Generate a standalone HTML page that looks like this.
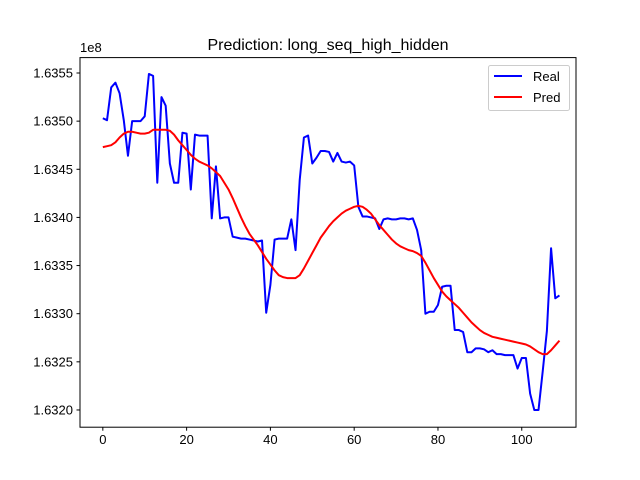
<!DOCTYPE html>
<html><head><meta charset="utf-8"><style>
body{margin:0;background:#fff}
svg{display:block;font-family:"Liberation Sans","DejaVu Sans",sans-serif}
</style></head><body>
<svg id="chart" width="640" height="480">
<rect width="640" height="480" fill="#fff"/>
<text x="328" y="50" text-anchor="middle" font-size="16">Prediction: long_seq_high_hidden</text>
<text x="80" y="52" font-size="13">1e8</text>
<g id="ticks"></g>
<polyline id="real" fill="none" stroke="#0000ff" stroke-width="2" stroke-linejoin="round"/>
<polyline id="pred" fill="none" stroke="#ff0000" stroke-width="2" stroke-linejoin="round"/>
<rect x="80" y="57.6" width="496" height="369.6" fill="none" stroke="#000" stroke-width="1"/>
<g>
<rect x="488.5" y="65.5" width="81" height="45" rx="2" fill="#fff" fill-opacity="0.8" stroke="#ccc"/>
<line x1="494" y1="76" x2="522" y2="76" stroke="#0000ff" stroke-width="2"/>
<text x="533" y="81" font-size="13">Real</text>
<line x1="494" y1="97" x2="522" y2="97" stroke="#ff0000" stroke-width="2"/>
<text x="533" y="102" font-size="13">Pred</text>
</g>
</svg>
<script>
const realValues=[1.63503,1.63501,1.63535,1.63540,1.63529,1.63501,1.63464,1.63500,1.63500,1.63500,1.63505,1.63549,1.63547,1.63436,1.63525,1.63516,1.63456,1.63436,1.63436,1.63488,1.63487,1.63429,1.63486,1.63485,1.63485,1.63485,1.63399,1.63453,1.63399,1.63400,1.63400,1.63380,1.63379,1.63378,1.63378,1.63377,1.63376,1.63375,1.63376,1.63301,1.63330,1.63377,1.63378,1.63378,1.63378,1.63398,1.63366,1.63439,1.63483,1.63485,1.63456,1.63462,1.63469,1.63469,1.63468,1.63458,1.63467,1.63458,1.63457,1.63458,1.63454,1.63411,1.63401,1.63401,1.63400,1.63399,1.63388,1.63398,1.63399,1.63398,1.63398,1.63399,1.63399,1.63398,1.63399,1.63387,1.63366,1.63300,1.63302,1.63302,1.63309,1.63328,1.63329,1.63329,1.63283,1.63283,1.63281,1.63260,1.63260,1.63264,1.63264,1.63263,1.63260,1.63262,1.63258,1.63258,1.63257,1.63257,1.63257,1.63243,1.63254,1.63254,1.63217,1.63200,1.63200,1.63240,1.63282,1.63368,1.63316,1.63319];
const predValues=[1.63473,1.63474,1.63475,1.63478,1.63483,1.63487,1.63489,1.63489,1.63488,1.63487,1.63487,1.63488,1.63491,1.63491,1.63491,1.63491,1.63490,1.63486,1.63480,1.63475,1.63470,1.63465,1.63461,1.63458,1.63456,1.63454,1.63451,1.63447,1.63443,1.63436,1.63429,1.63420,1.63410,1.63400,1.63391,1.63383,1.63377,1.63371,1.63364,1.63357,1.63351,1.63345,1.63340,1.63338,1.63337,1.63337,1.63337,1.63340,1.63347,1.63355,1.63363,1.63371,1.63379,1.63385,1.63391,1.63396,1.63400,1.63404,1.63407,1.63409,1.63411,1.63412,1.63411,1.63408,1.63404,1.63398,1.63392,1.63387,1.63382,1.63377,1.63373,1.63370,1.63368,1.63366,1.63365,1.63363,1.63360,1.63353,1.63345,1.63337,1.63330,1.63323,1.63318,1.63314,1.63310,1.63306,1.63301,1.63296,1.63291,1.63287,1.63283,1.63280,1.63278,1.63276,1.63275,1.63274,1.63273,1.63272,1.63271,1.63270,1.63269,1.63268,1.63266,1.63263,1.63260,1.63258,1.63258,1.63262,1.63267,1.63272];
const xTicks=[0,20,40,60,80,100];
const yTicks=[1.6320,1.6325,1.6330,1.6335,1.6340,1.6345,1.6350,1.6355];
const yTickLabels=["1.6320","1.6325","1.6330","1.6335","1.6340","1.6345","1.6350","1.6355"];
const X0=80,X1=576,Y0=57.6,Y1=427.2;
const xMin=-5.45,xMax=112.95,yMin=1.631821,yMax=1.635660;
function sx(v){return X0+(v-xMin)/(xMax-xMin)*(X1-X0);}
function sy(v){return Y1-(v-yMin)/(yMax-yMin)*(Y1-Y0);}
const NS="http://www.w3.org/2000/svg";
const g=document.getElementById('ticks');
function mk(tag,attrs){const e=document.createElementNS(NS,tag);for(const k in attrs)e.setAttribute(k,attrs[k]);return e;}
xTicks.forEach(t=>{
  const x=sx(t);
  const l=mk('line',{x1:x,x2:x,y1:Y1,y2:Y1+3.5,stroke:'#000'});
  
  
  g.appendChild(l);
  const tx=mk('text',{x:x,y:Y1+17,'text-anchor':'middle','font-size':'13'});
  
  
  tx.textContent=String(t);g.appendChild(tx);
});
yTicks.forEach((t,i)=>{
  const y=sy(t);
  const l=mk('line',{x1:X0-3.5,x2:X0,y1:y,y2:y,stroke:'#000'});
  
  
  g.appendChild(l);
  const tx=mk('text',{x:X0-7,y:y+4.5,'text-anchor':'end','font-size':'13'});
  
  
  tx.textContent=yTickLabels[i];g.appendChild(tx);
});
document.getElementById('real').setAttribute('points',realValues.map((v,i)=>sx(i)+','+sy(v)).join(' '));
document.getElementById('pred').setAttribute('points',predValues.map((v,i)=>sx(i)+','+sy(v)).join(' '));
</script>
</body></html>
